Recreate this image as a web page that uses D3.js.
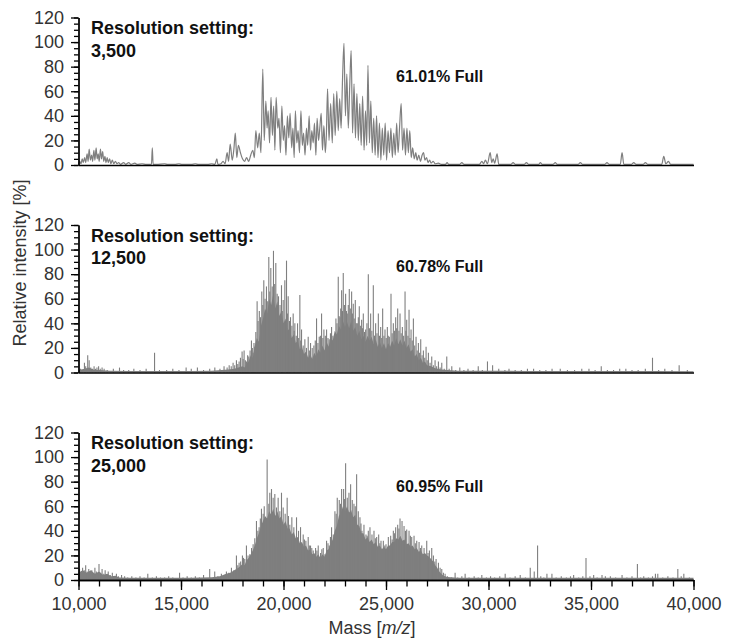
<!DOCTYPE html>
<html>
<head>
<meta charset="utf-8">
<script src="https://cdn.jsdelivr.net/npm/d3@7"></script>
<style>
  html, body { margin: 0; padding: 0; background: #fff; }
  svg { display: block; font-family: "Liberation Sans", Arial, Helvetica, sans-serif; }
  .axis path, .axis line { stroke: #000; stroke-width: 1.3; }
  .axis text { font-size: 18px; fill: #333; font-family: "Liberation Sans", Arial, sans-serif; }
</style>
</head>
<body>
<svg id="chart" width="738" height="642"></svg>
<script>
// ---- data ----
const massTicks = [10000, 15000, 20000, 25000, 30000, 35000, 40000];
const intensityTicks = [0, 20, 40, 60, 80, 100, 120];
const resolutionSettings = ['3,500', '12,500', '25,000'];
const fullLabels = ['61.01% Full', '60.78% Full', '60.95% Full'];

// resolution 3,500: continuous profile [mass, relative intensity]
const trace3500 = [
  [10000,0.5],[10060,3],[10120,1],[10180,5],[10230,2],[10300,6],[10350,2],[10420,9],[10470,3],[10520,13],
  [10580,4],[10640,8],[10690,3],[10750,12],[10800,4],[10860,14],[10910,5],[10960,9],[11010,3],[11070,13],
  [11120,5],[11180,11],[11230,3],[11290,7],[11340,2],[11400,6],[11450,2],[11520,5],[11580,1],[11650,4],
  [11720,1],[11800,3],[11880,1],[11960,2],[12050,0.5],[12200,2],[12300,0.5],[12450,2],[12550,0.5],[12750,1.5],
  [12850,0.5],[13100,1],[13300,0.5],[13560,0.5],[13600,14],[13640,0.5],[13800,0.5],[14200,1],[14350,0.5],[14700,0.5],
  [14900,1],[15050,0.5],[15500,0.5],[15700,1],[15850,0.5],[16300,0.5],[16500,1],[16650,0.5],[16750,5],[16800,0.5],
  [16950,1],[17050,3],[17150,1],[17250,10],[17320,3],[17400,17],[17500,4],[17580,13],[17650,26],[17720,6],
  [17800,16],[17900,10],[18000,5],[18100,3],[18200,6],[18300,3],[18400,8],[18500,12],[18580,6],[18650,28],
  [18740,14],[18820,26],[18900,10],[18990,78],[19060,20],[19140,52],[19200,30],[19250,44],[19320,18],[19390,55],
  [19460,24],[19520,48],[19580,12],[19640,55],[19720,30],[19780,38],[19850,10],[19920,48],[19990,20],[20050,32],
  [20120,8],[20190,40],[20260,22],[20320,42],[20400,14],[20460,30],[20520,6],[20580,44],[20650,18],[20710,28],
  [20780,10],[20850,44],[20920,16],[20980,26],[21050,8],[21120,30],[21180,16],[21250,40],[21320,12],[21380,28],
  [21450,18],[21510,34],[21580,8],[21640,38],[21710,20],[21770,30],[21840,42],[21900,12],[21970,32],[22040,10],
  [22090,24],[22150,62],[22220,20],[22300,50],[22380,18],[22450,58],[22520,24],[22600,60],
  [22670,28],[22740,54],[22810,30],[22880,70],[22950,99],[23020,40],[23090,74],[23160,30],[23230,64],[23300,93],
  [23370,26],[23440,66],[23510,22],[23580,58],[23650,20],[23720,50],[23790,16],[23860,56],[23930,12],[24000,44],
  [24060,16],[24120,81],[24190,18],[24260,52],[24330,10],[24400,38],[24470,8],[24540,40],[24610,6],[24680,34],
  [24750,4],[24820,30],[24890,8],[24960,34],[25030,4],[25100,28],[25170,10],[25240,30],[25310,6],[25380,26],
  [25450,8],[25520,34],[25590,10],[25660,30],[25740,50],[25810,12],[25880,30],[25950,8],[26020,30],[26090,10],
  [26160,28],[26230,6],[26300,14],[26380,5],[26450,10],[26520,4],[26600,8],[26680,3],[26760,8],[26830,10],
  [26900,4],[26980,6],[27050,2],[27130,4],[27200,1.5],[27300,3],[27400,1],[27550,1.5],[27700,0.5],[27900,0.5],
  [27980,2],[28060,0.5],[28600,0.5],[28700,2],[28800,0.5],[29550,0.5],[29680,3],[29760,1],[29850,4],[29950,1],
  [30080,10],[30160,2],[30230,5],[30300,1.5],[30420,9],[30500,0.5],[31100,0.5],[31200,2],[31300,0.5],[31750,0.5],
  [31850,2],[31950,0.5],[32450,0.5],[32530,2],[32620,0.5],[33150,0.5],[33260,2],[33350,0.5],[34380,0.5],[34480,2],
  [34580,0.5],[35680,0.5],[35780,2],[35880,0.5],[36430,0.5],[36515,10],[36600,0.5],[36980,0.5],[37085,2],[37190,0.5],
  [37550,0.5],[37655,2],[37760,0.5],[38450,0.5],[38550,7],[38650,1],[38780,3],[38880,0.5],[40000,0.5]
];

// resolution 12,500: dense envelope + individual peaks
const body12500 = [
  [10000,2],[10300,3],[10500,4],[10700,2.5],[11000,2],[11500,1.5],[12500,1.2],[14000,1.2],[15500,1.2],[16500,1.5],
  [17300,2.5],[17600,3],[17800,4],[18000,5],[18100,4],[18200,7],[18300,9],[18400,14],[18500,12],[18600,22],
  [18700,28],[18800,25],[18900,38],[19000,44],[19100,52],[19200,48],[19300,60],[19400,55],[19500,64],[19600,52],
  [19700,58],[19800,46],[19900,50],[20000,40],[20100,44],[20200,34],[20300,36],[20400,28],[20500,31],[20600,24],
  [20700,26],[20800,19],[20900,21],[21000,15],[21100,17],[21200,12],[21300,15],[21400,11],[21500,16],[21600,13],
  [21700,19],[21800,16],[21900,22],[22000,18],[22100,25],[22200,21],[22300,28],[22400,26],[22500,34],[22600,31],
  [22700,38],[22800,35],[22900,42],[23000,37],[23100,41],[23200,36],[23300,42],[23400,34],[23500,37],[23600,30],
  [23700,34],[23800,27],[23900,30],[24000,25],[24100,30],[24200,26],[24300,29],[24400,23],[24500,27],[24600,21],
  [24700,25],[24800,20],[24900,24],[25000,19],[25100,24],[25200,21],[25300,26],[25400,22],[25500,28],[25600,23],
  [25700,27],[25800,22],[25900,26],[26000,20],[26100,23],[26200,17],[26300,19],[26400,13],[26500,15],[26600,10],
  [26700,12],[26800,8],[26900,9],[27000,6],[27200,5],[27400,3.5],[27700,2.5],[28000,2],[28500,1.5],[30000,1.5],
  [32000,1.2],[34000,1.2],[36000,1.2],[38000,1.2],[40000,1]
];
const peaks12500 = [
  [10100,3],[10180,2],[10290,8],[10350,5],[10450,14],[10520,10],[10600,4],[10680,3],[10760,5],[10830,3],
  [10900,4],[10980,5],[11060,3],[11150,4],[11250,3],[11400,2],[11700,3],[12000,4],[12200,2],[12450,2],
  [12700,3],[13000,2],[13300,3],[13710,16],[13950,2],[14300,2],[14600,3],[14900,2],[15250,4],[15500,3],
  [15800,4],[16100,2],[16400,3],[16650,4],[16900,3],[17100,5],[17250,4],[17350,6],[17450,5],
  [17541,8],[17620,6],[17704,10],[17770,7],[17834,9],[17900,12],[17980,17],[18030,11],[18078,18],[18140,10],
  [18192,9],[18250,14],[18306,13],[18370,18],[18436,26],[18480,20],[18518,16],[18560,24],[18599,21],[18650,33],
  [18713,58],[18760,42],[18820,50],[18880,45],[18941,66],[18990,55],[19039,75],[19100,60],[19169,70],[19230,58],
  [19283,94],[19330,66],[19381,85],[19450,70],[19511,99],[19570,72],[19625,89],[19690,64],[19756,62],[19830,55],
  [19902,71],[19940,50],[19984,59],[20065,75],[20147,91],[20190,48],[20228,62],[20290,42],[20342,45],[20410,38],
  [20472,48],[20520,34],[20554,40],[20620,30],[20684,40],[20740,28],[20798,63],[20840,26],[20880,35],[20960,22],
  [21042,27],[21120,20],[21205,29],[21260,18],[21319,24],[21400,20],[21482,22],[21550,26],[21612,44],[21680,24],
  [21743,29],[21800,30],[21857,48],[21920,28],[21971,35],[22040,30],[22101,35],[22170,28],[22231,27],[22290,32],
  [22345,37],[22410,30],[22476,24],[22557,44],[22610,40],[22671,78],[22710,46],[22753,45],[22790,52],[22834,67],
  [22880,50],[22915,81],[22970,55],[23030,64],[23070,50],[23111,48],[23160,55],[23209,68],[23260,52],[23323,66],
  [23360,48],[23404,56],[23450,44],[23502,59],[23550,40],[23600,40],[23650,45],[23697,54],[23750,38],[23811,43],
  [23850,36],[23893,48],[23950,33],[24007,35],[24070,40],[24137,80],[24190,36],[24251,48],[24310,34],[24381,71],
  [24440,30],[24495,40],[24560,32],[24626,48],[24680,30],[24740,37],[24790,28],[24837,52],[24900,30],[24951,35],
  [25010,28],[25065,37],[25110,30],[25163,29],[25244,64],[25300,32],[25358,40],[25420,34],[25472,45],[25520,36],
  [25570,52],[25630,34],[25684,48],[25740,32],[25798,37],[25860,30],[25929,66],[25970,34],[26010,43],[26070,30],
  [26124,51],[26170,28],[26222,35],[26280,26],[26336,44],[26400,22],[26466,29],[26520,18],[26580,24],[26640,16],
  [26694,27],[26760,14],[26824,18],[26890,12],[26955,21],[27010,10],[27069,16],[27150,8],[27231,13],[27310,6],
  [27394,10],[27470,5],[27557,9],[27640,4],[27720,8],[27840,3],[27964,13],[28080,3],[28209,5],
  [28400,2],[28600,4],[28800,2],[29000,3],[29250,2],[29500,5],[29700,2],[29950,9],[30200,6],[30500,3],
  [30800,2],[31000,3],[31300,2],[31600,2],[31900,3],[32200,3],[32500,2],[32800,2],[33100,3],[33500,3],
  [33850,2],[34200,2],[34550,3],[34900,3],[35200,2],[35500,5],[35800,2],[36100,2],[36400,3],[36700,3],
  [37000,2],[37300,2],[37650,3],[38000,12],[38300,2],[38600,3],[38950,2],[39300,6],[39700,2]
];

// resolution 25,000: dense envelope + individual peaks
const body25000 = [
  [10000,6],[10200,8],[10400,6],[10600,8],[10800,5],[11000,7],[11200,4],[11400,5],[11600,3],[11800,3.5],
  [12000,2],[12500,1.8],[14000,1.8],[15500,1.8],[16500,2.2],[16900,3],[17200,5],[17400,6],[17600,8],[17800,10],
  [18000,13],[18100,12],[18200,16],[18300,18],[18400,21],[18500,24],[18600,28],[18700,34],[18800,38],[18900,44],
  [19000,48],[19100,52],[19200,50],[19300,56],[19400,53],[19500,58],[19600,52],[19700,56],[19800,50],[19900,52],
  [20000,45],[20100,48],[20200,42],[20300,42],[20400,37],[20500,39],[20600,34],[20700,35],[20800,30],[20900,31],
  [21000,27],[21100,28],[21200,24],[21300,25],[21400,21],[21500,22],[21600,19],[21700,21],[21800,18],[21900,21],
  [22000,19],[22100,24],[22200,25],[22300,30],[22400,33],[22500,40],[22600,44],[22700,52],[22800,55],[22900,60],
  [23000,56],[23100,60],[23200,55],[23300,57],[23400,51],[23500,53],[23600,45],[23700,44],[23800,38],[23900,38],
  [24000,33],[24100,35],[24200,31],[24300,33],[24400,29],[24500,31],[24600,27],[24700,28],[24800,25],[24900,27],
  [25000,25],[25100,28],[25200,28],[25300,31],[25400,31],[25500,34],[25600,33],[25700,36],[25800,32],[25900,33],
  [26000,29],[26100,30],[26200,27],[26300,28],[26400,25],[26500,26],[26600,23],[26700,24],[26800,21],[26900,22],
  [27000,20],[27100,19],[27200,17],[27300,15],[27400,12],[27500,10],[27600,7],[27700,5],[27800,3.5],[28000,2.5],
  [28500,1.8],[30000,1.8],[32000,1.8],[34000,1.8],[36000,1.8],[38000,1.8],[40000,1.8]
];
const peaks25000 = [
  [10050,9],[10120,6],[10200,10],[10280,8],[10350,12],[10420,7],[10500,9],[10580,6],[10650,8],[10720,5],
  [10800,10],[10870,7],[10950,5],[11000,13],[11080,6],[11150,9],[11230,5],[11300,8],[11380,4],[11450,7],
  [11550,4],[11650,6],[11750,3],[11850,5],[11950,3],[12100,4],[12250,3],[12400,2],[12600,3],[12800,2],
  [13000,3],[13200,2],[13380,5],[13600,2],[13800,3],[14000,2],[14200,2],[14400,3],[14600,2],[14930,6],
  [15100,2],[15300,3],[15500,2],[15700,3],[15900,2],[16100,4],[16400,9],[16645,7],[16800,3],[16970,5],
  [17100,4],[17215,7],[17330,6],[17460,10],[17580,8],[17704,20],[17770,12],[17834,14],[17910,15],[17997,20],
  [18050,18],[18111,17],[18192,28],[18270,20],[18355,21],[18440,26],[18518,29],[18600,34],[18681,48],[18750,40],
  [18811,43],[18870,50],[18925,58],[19007,54],[19060,60],[19120,48],[19202,98],[19283,62],[19332,71],[19414,74],
  [19495,67],[19577,70],[19658,59],[19739,67],[19821,56],[19902,71],[19984,59],[20081,54],[20179,67],[20240,52],
  [20309,45],[20407,51],[20505,43],[20635,51],[20733,40],[20831,43],[20961,37],[21020,33],[21091,32],[21205,35],
  [21260,28],[21319,28],[21380,26],[21450,24],[21564,26],[21630,24],[21694,28],[21808,22],[21870,25],[21938,26],
  [22020,21],[22101,32],[22170,30],[22231,28],[22290,35],[22345,43],[22427,37],[22508,56],[22570,54],[22622,67],
  [22720,65],[22780,62],[22834,74],[22932,74],[22980,66],[23030,95],[23111,67],[23193,71],[23274,78],[23355,65],
  [23437,62],[23500,60],[23567,86],[23648,56],[23730,51],[23780,46],[23827,40],[23925,45],[24023,37],[24080,36],
  [24137,40],[24218,43],[24316,37],[24414,40],[24480,34],[24544,35],[24642,37],[24700,30],[24756,32],[24870,32],
  [24940,28],[25000,29],[25114,35],[25228,36],[25300,33],[25358,40],[25420,38],[25472,43],[25570,45],[25630,42],
  [25684,50],[25782,48],[25880,44],[25950,40],[26010,41],[26124,40],[26190,36],[26254,35],[26368,36],[26430,30],
  [26499,32],[26613,31],[26680,26],[26743,28],[26857,26],[26987,32],[27050,22],[27117,24],[27231,26],[27313,20],
  [27380,15],[27443,17],[27557,14],[27640,10],[27720,9],[27800,6],[27883,5],
  [28000,3],[28200,2],[28371,6],[28500,2],[28700,3],[28860,5],[29050,2],[29300,3],[29500,2],[29674,4],
  [29900,2],[30100,3],[30300,2],[30550,3],[30814,5],[31050,2],[31300,3],[31547,4],[31800,2],[32036,10],
  [32231,7],[32394,28],[32550,3],[32700,2],[32850,5],[33094,5],[33300,2],[33550,3],[33800,2],[34000,3],
  [34153,4],[34400,2],[34600,3],[34756,18],[34950,3],[35130,4],[35300,2],[35537,4],[35700,3],[35945,3],
  [36200,2],[36515,4],[36750,2],[37000,3],[37264,13],[37420,2],[37573,3],[37800,2],[38000,3],[38143,5],
  [38258,5],[38500,2],[38750,3],[39000,2],[39235,9],[39400,3],[39528,5],[39800,2]
];

const traces = [trace3500, null, null];
const bodies = [null, body12500, body25000];
const peaks = [null, peaks12500, peaks25000];

// ---- layout ----
const panelTop = [17.5, 225, 432.5];
const panelH = 147.5;
const fullLabelY = [81.5, 271.5, 491.5];
const spectrumColor = '#7f7f7f';

const svg = d3.select('#chart');
const x = d3.scaleLinear().domain([10000, 40000]).range([78.5, 693.5]);

panelTop.forEach((top, i) => {
  const y = d3.scaleLinear().domain([0, 120]).range([top + panelH, top]);
  const g = svg.append('g').attr('class', 'panel');

  // dense part of the high-resolution spectra
  if (bodies[i]) {
    g.append('path')
      .datum(bodies[i])
      .attr('fill', spectrumColor)
      .attr('d', d3.area().x(d => x(d[0])).y0(y(0)).y1(d => y(d[1])));
  }

  if (peaks[i]) {
    g.selectAll('line.peak')
      .data(peaks[i])
      .join('line')
      .attr('class', 'peak')
      .attr('x1', d => x(d[0])).attr('x2', d => x(d[0]))
      .attr('y1', y(0)).attr('y2', d => y(d[1]))
      .attr('stroke', spectrumColor)
      .attr('stroke-width', 1.1);
  }

  if (traces[i]) {
    g.append('path')
      .datum(traces[i])
      .attr('fill', 'none')
      .attr('stroke', spectrumColor)
      .attr('stroke-width', 1.2)
      .attr('stroke-linejoin', 'round')
      .attr('d', d3.line().x(d => x(d[0])).y(d => y(d[1])).curve(d3.curveMonotoneX));
  }

  // y axis: minor ticks every 5, labelled ticks every 20
  g.append('g')
    .attr('class', 'axis')
    .attr('transform', `translate(${x(10000)},0)`)
    .call(d3.axisLeft(y).tickValues(d3.range(0, 121, 5)).tickSize(4.5).tickSizeOuter(0).tickFormat(''));
  g.append('g')
    .attr('class', 'axis')
    .attr('transform', `translate(${x(10000)},0)`)
    .call(d3.axisLeft(y).tickValues(intensityTicks).tickSize(7.5).tickPadding(7).tickSizeOuter(0));

  // x baseline / axis
  const bottom = top + panelH;
  if (i < 2) {
    g.append('g')
      .attr('class', 'axis')
      .attr('transform', `translate(0,${bottom})`)
      .call(d3.axisBottom(x).tickValues([]).tickSizeOuter(0));
  } else {
    g.append('g')
      .attr('class', 'axis')
      .attr('transform', `translate(0,${bottom})`)
      .call(d3.axisBottom(x).tickValues(d3.range(10000, 40001, 1000)).tickSize(6.5).tickSizeOuter(0).tickFormat(''));
    g.append('g')
      .attr('class', 'axis')
      .attr('transform', `translate(0,${bottom})`)
      .call(d3.axisBottom(x).tickValues(massTicks).tickSize(10).tickPadding(7).tickSizeOuter(0).tickFormat(d3.format(',')));
  }

  // annotations
  const note = g.append('text')
    .attr('font-weight', 'bold')
    .attr('font-size', '18px')
    .attr('fill', '#111');
  note.append('tspan').attr('x', 91).attr('y', top + 16.5).text('Resolution setting:');
  note.append('tspan').attr('x', 91).attr('y', top + 39).text(resolutionSettings[i]);

  g.append('text')
    .attr('x', 396)
    .attr('y', fullLabelY[i])
    .attr('font-weight', 'bold')
    .attr('font-size', '16px')
    .attr('fill', '#111')
    .text(fullLabels[i]);
});

// axis titles
svg.append('text')
  .attr('transform', 'translate(26,263) rotate(-90)')
  .attr('text-anchor', 'middle')
  .attr('font-size', '18px')
  .attr('fill', '#333')
  .text('Relative intensity [%]');

const xt = svg.append('text')
  .attr('x', 372)
  .attr('y', 634)
  .attr('text-anchor', 'middle')
  .attr('font-size', '18px')
  .attr('fill', '#333');
xt.append('tspan').text('Mass [');
xt.append('tspan').attr('font-style', 'italic').text('m/z');
xt.append('tspan').text(']');
</script>
</body>
</html>
